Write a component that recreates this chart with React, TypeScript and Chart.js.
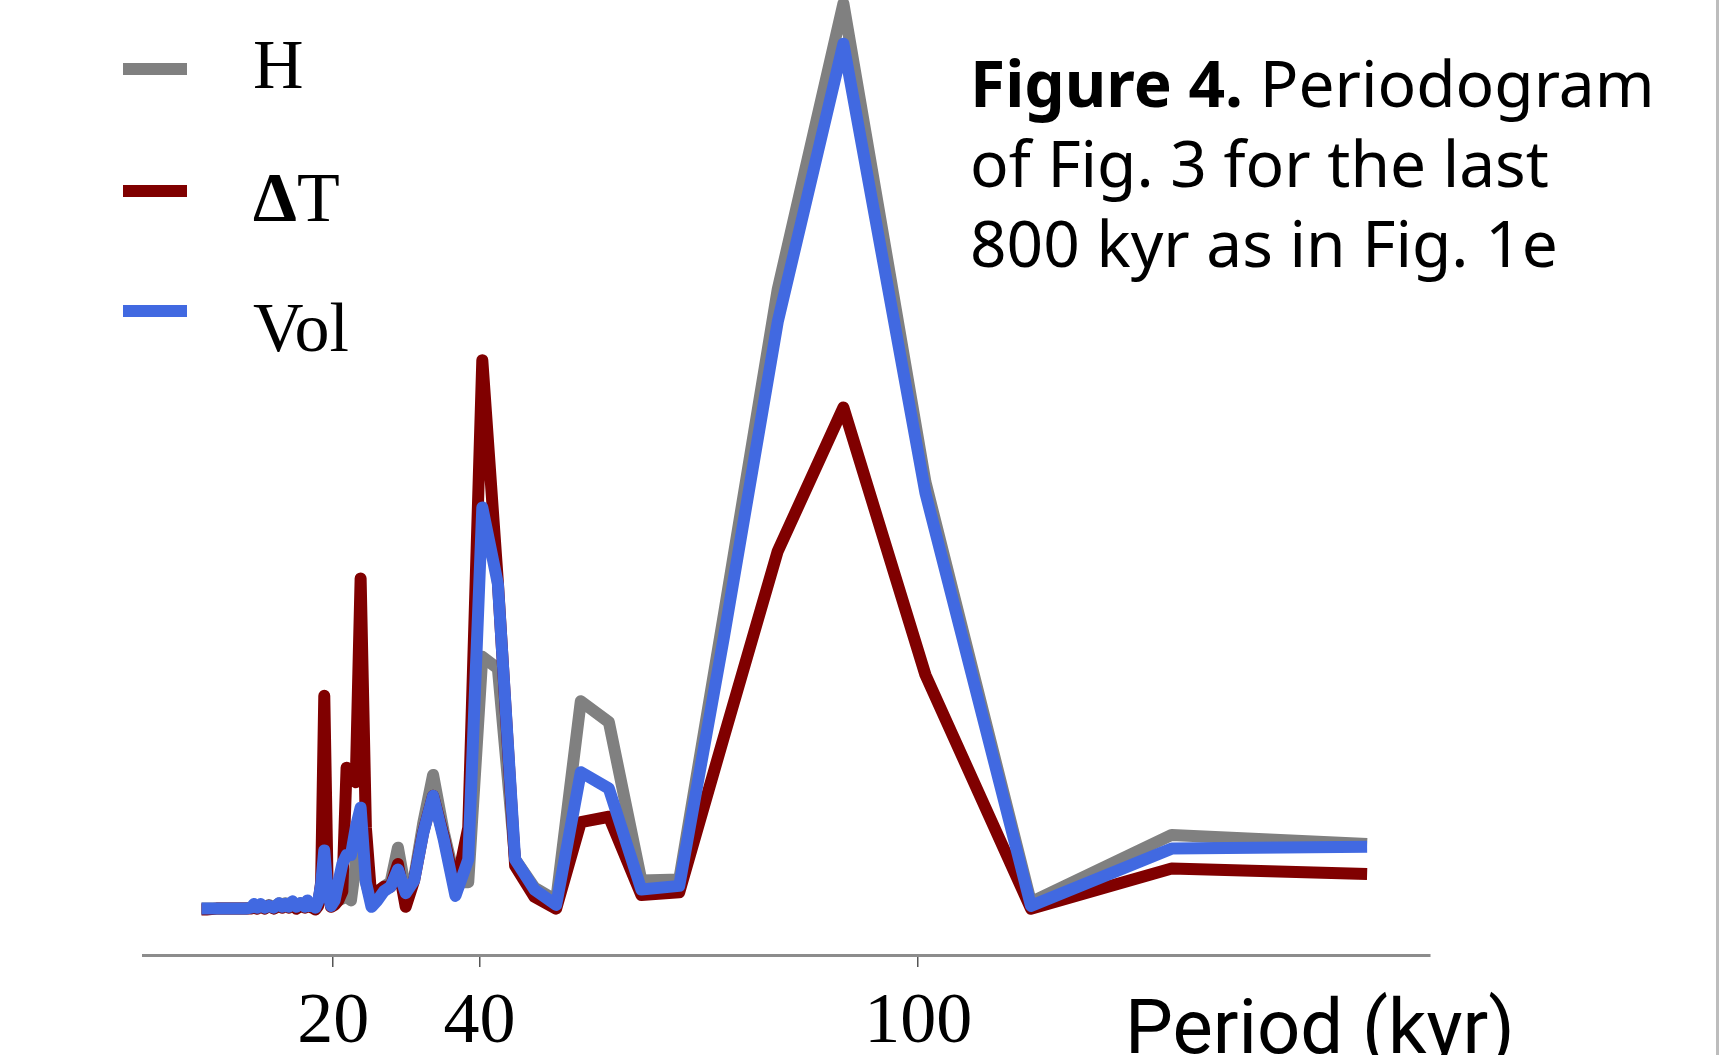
import React, { useEffect, useRef } from 'react';
import { Chart, registerables } from 'chart.js';

Chart.register(...registerables);

// Period (kyr) of each periodogram point
const periods = [
  2.0, 2.69, 4.04, 5.39, 6.73, 8.08, 8.78, 9.18, 9.62, 10.1,
  10.63, 11.22, 11.88, 12.63, 13.03, 13.47, 13.93, 14.43, 14.96, 15.54,
  16.16, 16.49, 16.83, 17.19, 17.57, 17.96, 18.36, 18.79, 19.24, 19.71,
  20.2, 20.72, 21.26, 21.84, 22.44, 23.09, 23.76, 24.48, 25.25, 26.06,
  26.93, 27.86, 28.86, 29.93, 31.08, 32.32, 33.67, 35.13, 36.73, 38.48,
  40.4, 42.53, 44.89, 47.53, 50.5, 53.87, 57.71, 62.15, 67.33, 73.45,
  80.8, 89.78, 101.0, 115.43, 134.67, 161.4,
];

// Spectral power (arbitrary units)
const hValues = [
  0.1, 0.1, 0.1, 0.1, 0.1, 0.1, 0.2, 0.4, 0.2, 0.5,
  0.2, 0.5, 0.2, 0.7, 0.3, 0.7, 0.4, 0.8, 0.3, 0.7,
  0.4, 0.9, 0.5, 0.6, 0.3, 0.8, 2.5, 6.0, 1.5, 0.5,
  0.8, 1.0, 1.2, 1.5, 1.0, 5.0, 10.0, 3.0, 0.8, 1.5,
  2.5, 3.0, 6.8, 2.0, 3.5, 9.5, 14.8, 8.5, 3.0, 3.0,
  27.8, 26.5, 5.5, 2.4, 1.0, 22.9, 20.6, 3.2, 3.3, 32.5,
  68.2, 99.6, 47.0, 0.8, 8.2, 7.2,
];

const dtValues = [
  0.0, 0.0, 0.1, 0.1, 0.1, 0.1, 0.1, 0.2, 0.1, 0.3,
  0.1, 0.4, 0.1, 0.4, 0.2, 0.5, 0.2, 0.6, 0.1, 0.4,
  0.2, 0.7, 0.3, 0.2, 0.0, 0.4, 3.0, 23.5, 3.0, 0.3,
  0.5, 1.0, 2.0, 15.6, 15.0, 14.0, 36.4, 9.0, 1.0, 2.0,
  2.5, 2.5, 5.0, 0.3, 3.2, 8.5, 12.5, 8.0, 2.2, 9.0,
  60.4, 36.0, 4.8, 1.4, 0.1, 9.6, 10.2, 1.6, 1.9, 19.0,
  39.4, 55.2, 25.8, 0.1, 4.5, 3.9,
];

const volValues = [
  0.1, 0.1, 0.1, 0.1, 0.1, 0.1, 0.2, 0.6, 0.2, 0.6,
  0.2, 0.4, 0.2, 0.7, 0.3, 0.6, 0.3, 0.9, 0.3, 0.7,
  0.3, 1.0, 0.4, 0.5, 0.2, 0.9, 2.8, 6.5, 2.0, 0.4,
  1.0, 3.0, 5.0, 6.0, 6.0, 9.0, 11.2, 3.0, 0.3, 1.0,
  2.0, 2.5, 4.4, 1.8, 3.2, 8.4, 12.5, 7.7, 1.5, 5.5,
  44.2, 35.8, 5.5, 2.2, 0.5, 15.1, 13.3, 2.2, 2.6, 30.0,
  64.6, 95.2, 45.8, 0.4, 6.7, 6.9,
];

const xTicks = [20, 40, 100];
const seriesNames = ['H', 'ΔT', 'Vol'];
const seriesColors = ['#808080', '#800000', '#4169e1'];
const captionBold = 'Figure 4.';
const captionLines = [' Periodogram', 'of Fig. 3 for the last', '800 kyr as in Fig. 1e'];
const axisTitle = 'Period (kyr)';

export default function App() {
  const canvasRef = useRef<HTMLCanvasElement | null>(null);

  useEffect(() => {
    const canvas = canvasRef.current;
    if (!canvas) return;
    const toPoints = (vals: number[]) => periods.map((p, i) => ({ x: p, y: vals[i] }));

    const overlay = {
      id: 'overlay',
      afterDraw(chart: any) {
        const c: CanvasRenderingContext2D = chart.ctx;
        c.save();
        c.textBaseline = 'alphabetic';
        c.textAlign = 'left';
        c.fillStyle = '#000';

        // legend
        const legendLineY = [69, 191, 311];
        const legendTextY = [88, 221, 351];
        seriesNames.forEach((name, i) => {
          c.fillStyle = seriesColors[i];
          c.fillRect(123, legendLineY[i] - 6, 64, 12);
          c.fillStyle = '#000';
          if (name.startsWith('Δ')) {
            c.font = "bold 70px 'Liberation Serif', serif";
            c.fillText('Δ', 253, legendTextY[i]);
            const w = c.measureText('Δ').width;
            c.font = "70px 'Liberation Serif', serif";
            c.fillText(name.slice(1), 253 + w, legendTextY[i]);
          } else {
            c.font = "70px 'Liberation Serif', serif";
            c.fillText(name, 253, legendTextY[i]);
          }
        });

        // caption
        const capX = 970;
        const capY = [107, 187, 267];
        c.font = "bold 64px 'Noto Sans', sans-serif";
        c.fillText(captionBold, capX, capY[0]);
        const bw = c.measureText(captionBold).width;
        c.font = "64px 'Noto Sans', sans-serif";
        c.fillText(captionLines[0], capX + bw, capY[0]);
        c.fillText(captionLines[1], capX, capY[1]);
        c.fillText(captionLines[2], capX, capY[2]);

        // axis title
        c.font = "76px Roboto, sans-serif";
        c.fillText(axisTitle, 1125, 1053);

        // page edge line
        c.fillStyle = '#bdbdbd';
        c.fillRect(1716, 0, 3, 1055);
        c.restore();
      },
    };

    const common = {
      borderWidth: 12,
      pointRadius: 0,
      pointHoverRadius: 0,
      tension: 0,
      fill: false,
      borderJoinStyle: 'round' as const,
      borderCapStyle: 'butt' as const,
      clip: false as const,
    };

    const chart = new Chart(canvas, {
      type: 'line',
      data: {
        datasets: [
          { ...common, label: seriesNames[2], data: toPoints(volValues), borderColor: seriesColors[2], order: 0 },
          { ...common, label: seriesNames[1], data: toPoints(dtValues), borderColor: seriesColors[1], order: 1 },
          { ...common, label: seriesNames[0], data: toPoints(hValues), borderColor: seriesColors[0], order: 2 },
        ],
      },
      options: {
        responsive: false,
        animation: false,
        devicePixelRatio: 1,
        layout: { padding: { left: 143, right: 299, top: 0, bottom: 0 } },
        plugins: { legend: { display: false }, tooltip: { enabled: false } },
        scales: {
          x: {
            type: 'linear',
            min: -6,
            max: 170,
            afterBuildTicks: (s: any) => {
              s.ticks = xTicks.map((v) => ({ value: v }));
            },
            afterFit: (s: any) => {
              s.height = 100;
            },
            grid: {
              display: true,
              drawOnChartArea: false,
              drawTicks: true,
              tickLength: 12,
              color: '#555',
              lineWidth: 1.5,
            },
            border: { display: true, color: '#8c8c8c', width: 3 },
            ticks: {
              color: '#000',
              font: { family: "'Liberation Serif', serif", size: 72 },
              padding: 13,
              maxRotation: 0,
              minRotation: 0,
              autoSkip: false,
              callback: (v: any) => String(v),
            },
          },
          y: { display: false, min: -5, max: 100 },
        },
      },
      plugins: [overlay],
    });

    return () => chart.destroy();
  }, []);

  return (
    <div style={{ position: 'fixed', left: 0, top: 0, width: 1729, height: 1055, overflow: 'hidden', background: '#fff' }}>
      <canvas ref={canvasRef} width={1729} height={1055} style={{ display: 'block', width: 1729, height: 1055 }} />
    </div>
  );
}
